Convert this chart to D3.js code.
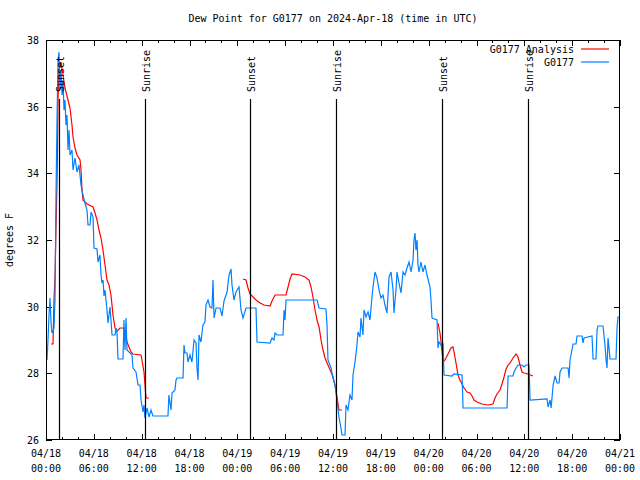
<!DOCTYPE html>
<html><head><meta charset="utf-8">
<script src="https://cdn.jsdelivr.net/npm/d3@7"></script>
<style>
body{margin:0;background:#fff;}
text{font-family:"DejaVu Sans Mono","Liberation Mono",monospace;font-size:10px;fill:#000;}
</style></head>
<body><svg id="c" width="640" height="480"></svg>
<script>
// Hours since 2024-04-18 00:00 UTC
const obsHours = [0.13,0.25,0.38,0.50,0.63,0.75,1.00,1.13,1.25,1.38,1.51,1.63,1.76,1.88,2.01,2.13,2.26,2.38,2.51,2.63,2.76,2.89,3.01,3.26,3.39,3.64,3.89,4.14,4.39,4.64,4.89,5.14,5.27,5.52,5.65,5.90,6.02,6.40,6.52,6.77,6.90,7.02,7.15,7.28,7.40,7.53,7.65,7.78,7.90,8.03,8.15,8.28,8.66,8.78,8.91,9.03,9.66,9.78,9.91,10.04,10.16,10.79,10.91,11.29,11.54,11.79,11.92,12.17,12.29,12.42,12.67,12.92,13.17,13.42,15.30,15.42,15.68,15.81,16.18,16.31,16.43,17.19,17.31,17.44,17.69,17.81,18.06,18.31,18.57,18.82,18.94,19.07,19.19,19.44,19.69,19.94,20.07,20.32,20.57,20.82,20.95,21.08,21.33,21.83,22.08,22.33,22.71,22.96,23.21,23.33,23.58,23.83,24.21,24.46,24.71,25.09,26.34,26.47,28.10,28.35,28.60,28.73,28.98,29.73,29.86,29.98,30.11,34.00,34.25,35.12,35.25,35.37,35.75,36.00,36.25,36.50,36.75,37.00,37.13,37.51,37.63,37.88,38.13,38.38,38.51,38.76,39.01,39.14,39.39,39.51,39.76,39.89,40.14,40.39,40.64,40.89,41.02,41.27,41.52,41.77,42.02,42.27,42.52,42.77,43.03,43.28,43.53,43.65,43.90,44.03,44.28,44.53,44.78,45.03,45.28,45.54,45.79,46.04,46.16,46.29,46.41,46.54,46.66,46.79,47.04,47.29,47.54,47.79,48.04,48.17,48.29,48.42,49.05,49.17,49.30,49.55,49.67,49.80,49.92,50.93,51.18,52.19,52.31,57.83,57.96,58.58,58.71,58.96,59.21,59.71,59.96,60.21,60.59,60.72,62.85,62.98,63.23,63.36,63.61,63.86,64.11,64.36,64.48,64.73,65.49,65.61,65.73,65.98,66.11,66.48,66.61,67.24,67.36,67.49,68.49,68.62,68.99,69.12,69.24,69.87,70.12,70.25,70.37,70.50,70.75,71.50,71.63,71.75,72.00];
const obsValues = [28.40,29.00,29.75,30.26,29.54,29.21,29.36,30.20,33.20,35.60,37.40,37.64,36.50,37.10,36.35,36.80,35.90,36.20,35.45,35.75,34.70,35.30,34.55,34.70,34.10,34.46,34.04,34.25,33.65,33.35,33.11,32.90,32.45,32.45,32.84,32.69,31.76,31.73,31.34,31.55,30.95,30.71,30.80,30.32,30.50,30.20,29.90,29.51,29.75,29.99,29.60,29.15,29.15,29.36,29.21,28.43,28.43,29.60,28.70,29.66,28.70,28.55,28.16,28.04,27.65,27.65,27.20,26.84,27.05,26.66,26.96,26.69,26.90,26.72,26.72,27.35,26.90,27.41,27.50,27.80,27.86,27.86,28.85,28.61,28.61,28.34,28.55,28.34,29.00,28.91,28.16,27.80,29.15,28.94,29.45,29.54,30.05,30.20,29.99,29.96,30.80,29.66,29.96,29.96,29.72,30.17,30.44,30.95,31.13,30.65,30.20,30.44,30.59,29.90,29.66,29.96,29.96,28.94,28.91,29.06,29.00,29.21,29.15,29.15,29.90,29.60,30.20,30.20,29.96,29.93,29.45,28.40,28.16,27.86,27.65,27.20,26.69,26.36,26.15,26.15,27.05,26.90,27.35,27.20,27.95,28.34,28.85,29.24,29.09,29.66,29.15,29.90,29.69,29.84,29.60,30.29,30.59,31.04,30.86,30.50,30.26,30.35,30.05,29.81,30.89,31.04,30.50,29.81,30.50,31.04,30.71,30.41,31.04,30.95,31.16,31.34,31.04,31.40,32.00,32.21,31.70,32.00,31.25,31.04,31.34,31.04,31.25,30.95,30.71,30.59,30.20,29.66,29.60,28.76,28.94,28.85,28.70,28.91,27.95,27.92,27.98,27.95,26.96,26.96,27.92,27.92,28.04,28.16,28.25,28.25,28.19,28.25,28.25,27.20,27.23,26.99,27.20,26.96,27.65,27.92,27.71,27.71,28.04,28.16,28.16,27.86,28.40,28.70,28.88,28.88,29.12,29.12,28.91,29.06,29.12,28.43,28.43,29.30,29.42,29.42,28.85,28.40,28.16,29.06,28.43,28.43,29.36,29.69,29.69];

// Analysis (null marks a gap between runs)
const anaHours = [0.63,0.88,1.00,1.13,1.25,1.38,1.44,1.51,1.63,1.88,2.13,2.38,2.76,3.01,3.26,3.39,3.64,3.89,4.27,4.39,4.52,4.64,5.14,5.90,6.15,6.40,6.65,6.90,7.15,7.40,7.65,7.90,8.15,8.28,8.40,8.66,8.91,9.28,9.66,9.91,10.16,10.41,10.66,10.91,11.92,12.04,12.29,12.42,12.54,12.92,
  18.0,
  24.71,25.09,25.34,25.59,25.97,26.34,26.85,27.35,28.10,28.35,28.73,30.11,30.36,30.61,30.86,31.86,32.49,32.99,33.24,33.49,33.74,34.00,34.25,34.50,34.75,35.00,35.37,35.75,36.00,36.25,36.50,36.75,37.13,
  43.0,
  49.17,49.42,49.67,49.80,50.05,50.30,50.55,50.80,51.05,51.18,51.43,51.68,51.93,52.19,52.44,52.81,53.19,53.44,53.69,54.07,54.69,55.44,56.07,56.32,56.57,56.95,57.20,57.45,57.71,57.96,58.21,58.58,58.96,59.21,59.46,59.71,59.96,60.46,61.09];
const anaValues = [28.88,28.88,30.20,30.89,32.30,33.71,34.70,36.20,37.10,37.34,36.95,36.56,36.20,35.96,35.45,35.09,34.76,34.55,34.40,34.10,33.50,33.20,33.08,32.99,32.81,32.60,32.30,32.06,31.70,31.25,30.80,30.65,30.35,30.05,29.75,29.36,29.27,29.36,29.36,29.24,28.94,28.79,28.64,28.58,28.55,28.40,28.04,27.65,27.26,27.26,
  null,
  30.83,30.80,30.56,30.38,30.29,30.20,30.11,30.05,30.02,30.17,30.35,30.35,30.59,30.83,30.98,30.95,30.89,30.80,30.59,30.29,29.90,29.60,29.39,29.00,28.70,28.46,28.25,28.04,27.89,27.65,27.29,26.90,26.90,
  null,
  29.51,29.21,28.70,28.34,28.40,28.52,28.64,28.76,28.79,28.64,28.31,27.95,27.80,27.68,27.56,27.44,27.41,27.32,27.20,27.14,27.08,27.05,27.08,27.26,27.38,27.50,27.68,27.89,28.13,28.25,28.31,28.46,28.58,28.49,28.25,28.04,28.01,27.98,27.92];

const eventHours = [1.63, 12.42, 25.6, 36.4, 49.7, 60.5];
const eventLabels = ["Sunset","Sunrise","Sunset","Sunrise","Sunset","Sunrise"];

const xTickHours = [0,6,12,18,24,30,36,42,48,54,60,66,72];
const xTickDates = ["04/18","04/18","04/18","04/18","04/19","04/19","04/19","04/19","04/20","04/20","04/20","04/20","04/21"];
const xTickTimes = ["00:00","06:00","12:00","18:00","00:00","06:00","12:00","18:00","00:00","06:00","12:00","18:00","00:00"];
const yTicks = [26,28,30,32,34,36,38];

const titleText = "Dew Point for G0177 on 2024-Apr-18 (time in UTC)";
const yLabel = "degrees F";
const seriesNames = ["G0177 Analysis","G0177"];
const seriesColors = ["#ff0000","#0080ff"];

const L=46,R=620,T=40,B=440;
const svg = d3.select("#c");
const x = d3.scaleLinear().domain([0,72]).range([L,R]);
const y = d3.scaleLinear().domain([26,38]).range([B,T]);

svg.append("text").attr("x",(L+R)/2).attr("y",22).attr("text-anchor","middle").text(titleText);
svg.append("text").attr("transform",`translate(13,${(T+B)/2}) rotate(-90)`).attr("text-anchor","middle").text(yLabel);

// axes with inward ticks
const minor = d3.range(0,73,2);
const gxB = svg.append("g").attr("transform",`translate(0,${B})`);
gxB.call(d3.axisBottom(x).tickValues(minor).tickSize(-3).tickFormat(""));
gxB.append("g").call(d3.axisBottom(x).tickValues(xTickHours).tickSize(-6).tickFormat(""));
const gxT = svg.append("g").attr("transform",`translate(0,${T})`);
gxT.call(d3.axisTop(x).tickValues(minor).tickSize(-3).tickFormat(""));
gxT.append("g").call(d3.axisTop(x).tickValues(xTickHours).tickSize(-6).tickFormat(""));
const gyL = svg.append("g").attr("transform",`translate(${L},0)`).call(d3.axisLeft(y).tickValues(yTicks).tickSize(-6).tickFormat(""));
const gyR = svg.append("g").attr("transform",`translate(${R},0)`).call(d3.axisRight(y).tickValues(yTicks).tickSize(-6).tickFormat(""));
svg.selectAll(".domain").remove();
svg.selectAll(".tick line").attr("stroke","#000").attr("shape-rendering","crispEdges");

// tick labels
yTicks.forEach(v=>{
  svg.append("text").attr("x",L-7).attr("y",y(v)+4).attr("text-anchor","end").text(v);
});
xTickHours.forEach((h,i)=>{
  svg.append("text").attr("x",x(h)).attr("y",457).attr("text-anchor","middle").text(xTickDates[i]);
  svg.append("text").attr("x",x(h)).attr("y",472).attr("text-anchor","middle").text(xTickTimes[i]);
});

// data lines
const anaData = anaHours.map((h,i)=>({h,v:anaValues[i]}));
const obsData = obsHours.map((h,i)=>({h,v:obsValues[i]}));
const line = d3.line().defined(d=>d.v!==null).x(d=>x(d.h)).y(d=>y(d.v));
svg.append("path").datum(anaData).attr("d",line).attr("fill","none").attr("stroke",seriesColors[0]).attr("stroke-width",1.2);
svg.append("path").datum(obsData).attr("d",line).attr("fill","none").attr("stroke",seriesColors[1]).attr("stroke-width",1.2);

// sunrise/sunset markers
eventHours.forEach((h,i)=>{
  const xp = Math.round(x(h))+0.5;
  svg.append("line").attr("x1",xp).attr("x2",xp).attr("y1",99).attr("y2",B).attr("stroke","#000").attr("stroke-width",1.2);
  svg.append("text").attr("transform",`translate(${xp+4},92) rotate(-90)`).attr("text-anchor","start").text(eventLabels[i]);
});

// legend
seriesNames.forEach((n,i)=>{
  const ly = 49 + i*13;
  svg.append("text").attr("x",574).attr("y",ly+4).attr("text-anchor","end").text(n);
  svg.append("line").attr("x1",581).attr("x2",609).attr("y1",ly).attr("y2",ly).attr("stroke",seriesColors[i]).attr("stroke-width",1.2);
});

// frame
svg.append("rect").attr("x",L+0.5).attr("y",T+0.5).attr("width",R-L-1).attr("height",B-T-1).attr("fill","none").attr("stroke","#000").attr("stroke-width",1);
</script></body></html>
